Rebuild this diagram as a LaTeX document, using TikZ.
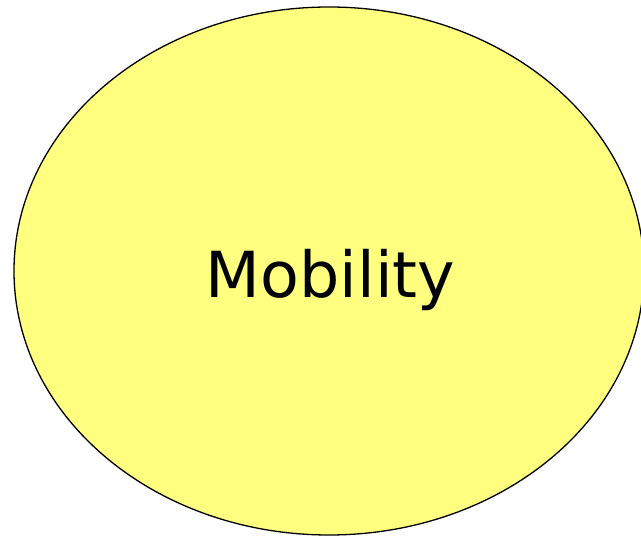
\documentclass[tikz,border=0pt]{standalone}
\usepackage{fontspec}
\setmainfont{DejaVu Sans}
\usetikzlibrary{shapes.geometric}
\definecolor{mobyellow}{RGB}{255,255,128}

\begin{document}
\begin{tikzpicture}[x=1pt,y=1pt]
	%%%%% START %%%%%
	
	\useasboundingbox (0, 0) rectangle (641, 536);
	
	\node[draw=black, line width=1.3pt, fill=mobyellow, ellipse, minimum width=630pt, minimum height=528pt, inner sep=0pt] (mobility) at (329, 265) {};
	\node[anchor=base, font=\fontsize{63.5}{70}\selectfont] (label) at (330.5, 238) {Mobility};
	
	%%%%% END %%%%%
\end{tikzpicture}
\end{document}
